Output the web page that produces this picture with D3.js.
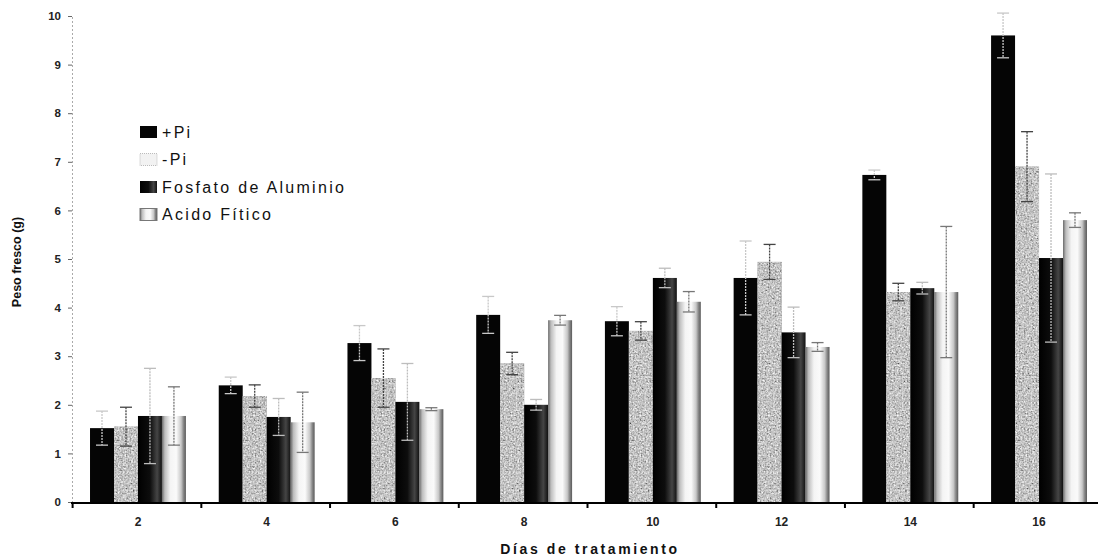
<!DOCTYPE html>
<html>
<head>
<meta charset="utf-8">
<script src="https://cdn.jsdelivr.net/npm/d3@7"></script>
<style>
  html, body { margin: 0; padding: 0; background: #fff; }
  svg { display: block; }
  text { font-family: Arial, "Liberation Sans", sans-serif; }
</style>
</head>
<body>
<svg id="chart" width="1098" height="559"></svg>
<script>
// ---- Data ----
const days = ["2", "4", "6", "8", "10", "12", "14", "16"];
const seriesNames = ["+Pi", "-Pi", "Fosfato de Aluminio", "Acido Fítico"];
const plusPi      = [1.52, 2.40, 3.27, 3.85, 3.72, 4.61, 6.73, 9.60];
const plusPiErr   = [0.35, 0.17, 0.36, 0.38, 0.30, 0.76, 0.10, 0.46];
const minusPi     = [1.55, 2.18, 2.55, 2.85, 3.52, 4.94, 4.32, 6.90];
const minusPiErr  = [0.40, 0.23, 0.60, 0.23, 0.19, 0.36, 0.18, 0.72];
const fosfato     = [1.77, 1.75, 2.06, 2.00, 4.61, 3.49, 4.40, 5.02];
const fosfatoErr  = [0.98, 0.38, 0.79, 0.11, 0.20, 0.52, 0.12, 1.73];
const acido       = [1.77, 1.64, 1.91, 3.74, 4.12, 3.19, 4.32, 5.80];
const acidoErr    = [0.60, 0.62, 0.03, 0.10, 0.21, 0.09, 1.35, 0.15];
const yTicks = [0, 1, 2, 3, 4, 5, 6, 7, 8, 9, 10];

const values = [plusPi, minusPi, fosfato, acido];
const errors = [plusPiErr, minusPiErr, fosfatoErr, acidoErr];

const svg = d3.select("#chart");
const defs = svg.append("defs");

// Fills
defs.append("filter").attr("id", "speckle").attr("x", 0).attr("y", 0).attr("width", 1).attr("height", 1)
  .call(f => {
    f.append("feTurbulence").attr("type", "fractalNoise").attr("baseFrequency", 0.6).attr("numOctaves", 2).attr("seed", 3).attr("result", "noise");
    f.append("feColorMatrix").attr("in", "noise").attr("type", "matrix")
      .attr("values", "0.33 0.33 0.33 0 0  0.33 0.33 0.33 0 0  0.33 0.33 0.33 0 0  0 0 0 0 1").attr("result", "gray");
    const ct = f.append("feComponentTransfer").attr("in", "gray").attr("result", "mapped");
    ct.append("feFuncR").attr("type", "linear").attr("slope", 2.0).attr("intercept", -0.42);
    ct.append("feFuncG").attr("type", "linear").attr("slope", 2.0).attr("intercept", -0.42);
    ct.append("feFuncB").attr("type", "linear").attr("slope", 2.0).attr("intercept", -0.42);
    f.append("feComposite").attr("in", "mapped").attr("in2", "SourceGraphic").attr("operator", "in");
  });

const gFos = defs.append("linearGradient").attr("id", "gFos").attr("x1", "0%").attr("x2", "100%");
[[0, "#000"], [0.5, "#0d0d0d"], [0.8, "#454545"], [0.92, "#262626"], [1, "#111"]]
  .forEach(([o, c]) => gFos.append("stop").attr("offset", o).attr("stop-color", c));
const gAci = defs.append("linearGradient").attr("id", "gAci").attr("x1", "0%").attr("x2", "100%");
[[0, "#6a6a6a"], [0.12, "#bdbdbd"], [0.35, "#f4f4f4"], [0.6, "#fafafa"], [0.8, "#c8c8c8"], [0.9, "#888"], [1, "#5a5a5a"]]
  .forEach(([o, c]) => gAci.append("stop").attr("offset", o).attr("stop-color", c));

const fills = ["#050505", "#8e8e8e", "url(#gFos)", "url(#gAci)"];
const errColor = ["#c8c8c8", "#444", "#bdbdbd", "#777"];

// ---- Scales ----
const x0 = d3.scaleBand().domain(days).range([72, 1105]).paddingInner(0.255).paddingOuter(0.14);
const x1 = d3.scaleBand().domain(d3.range(4)).range([0, x0.bandwidth()]);
const y = d3.scaleLinear().domain([0, 10]).range([502, 16]);

// ---- Y axis ----
const yAxis = svg.append("g").attr("transform", "translate(72,0)")
  .call(d3.axisLeft(y).tickValues(yTicks).tickSize(4).tickPadding(7));
yAxis.select(".domain").attr("stroke", "#aaa").attr("stroke-dasharray", "2,2");
yAxis.selectAll(".tick line").attr("stroke", "#666");
yAxis.selectAll(".tick text").attr("font-size", 11.5).attr("font-weight", "bold").attr("fill", "#222")
  .style("font-family", "Arial, 'Liberation Sans', sans-serif");

// ---- Bars ----
const groups = svg.append("g").selectAll("g").data(days).join("g")
  .attr("transform", d => `translate(${x0(d)},0)`);

groups.each(function(day, di) {
  const g = d3.select(this);
  values.forEach((arr, si) => {
    const v = arr[di];
    const bx = x1(si), bw = x1.bandwidth();
    g.append("rect").attr("x", bx).attr("y", y(v)).attr("width", bw).attr("height", y(0) - y(v))
      .attr("fill", fills[si]);
    if (si === 1) {
      g.append("rect").attr("x", bx).attr("y", y(v)).attr("width", bw).attr("height", y(0) - y(v))
        .attr("fill", "#999").attr("filter", "url(#speckle)").attr("opacity", 0.95);
    }
  });
  // error bars
  values.forEach((arr, si) => {
    const v = arr[di], e = errors[si][di];
    const cx = x1(si) + x1.bandwidth() / 2;
    const col = errColor[si];
    g.append("line").attr("x1", cx).attr("x2", cx).attr("y1", y(v + e)).attr("y2", y(v - e))
      .attr("stroke", col).attr("stroke-width", 1.3).attr("stroke-dasharray", "2,1");
    [v + e, v - e].forEach(t => {
      g.append("line").attr("x1", cx - 6).attr("x2", cx + 6).attr("y1", y(t)).attr("y2", y(t))
        .attr("stroke", col).attr("stroke-width", 1.3);
    });
  });
});

// ---- X axis ----
svg.append("line").attr("x1", 71).attr("x2", 1098).attr("y1", y(0) + 1).attr("y2", y(0) + 1)
  .attr("stroke", "#000").attr("stroke-width", 2.2);
const offs = (x0.step() - x0.bandwidth()) / 2;
svg.append("g").selectAll("line").data(days).join("line")
  .attr("x1", d => x0(d) - offs - 1).attr("x2", d => x0(d) - offs - 1)
  .attr("y1", y(0) + 1).attr("y2", y(0) + 6).attr("stroke", "#000").attr("stroke-width", 2);
svg.append("g").selectAll("text").data(days).join("text")
  .attr("x", d => x0(d) + x0.bandwidth() / 2).attr("y", 526)
  .attr("text-anchor", "middle").attr("font-size", 12).attr("font-weight", "bold").attr("fill", "#222")
  .text(d => d);

// ---- Axis titles ----
svg.append("text").attr("x", 590).attr("y", 554).attr("text-anchor", "middle")
  .attr("font-size", 14).attr("font-weight", "bold").attr("letter-spacing", "2.6px").attr("fill", "#111")
  .text("Días de tratamiento");
svg.append("text").attr("transform", "translate(21,262) rotate(-90)").attr("text-anchor", "middle")
  .attr("font-size", 12.5).attr("font-weight", "bold").attr("fill", "#111")
  .text("Peso fresco (g)");

// ---- Legend ----
const legendY = [132, 159.5, 187, 214.5];
const lg = svg.append("g").selectAll("g").data(seriesNames).join("g")
  .attr("transform", (d, i) => `translate(140,${legendY[i]})`);
lg.append("rect").attr("x", 0).attr("y", -6).attr("width", 17).attr("height", 12)
  .attr("fill", (d, i) => i === 1 ? "#f2f2f2" : fills[i])
  .attr("stroke", (d, i) => i === 1 ? "#bbb" : (i === 3 ? "#777" : "none"))
  .attr("stroke-dasharray", (d, i) => i === 1 ? "1,1" : null);
lg.append("text").attr("x", 22).attr("y", 5.5).attr("font-size", 16).attr("letter-spacing", "2.3px").attr("fill", "#111")
  .text(d => d);
</script>
</body>
</html>
